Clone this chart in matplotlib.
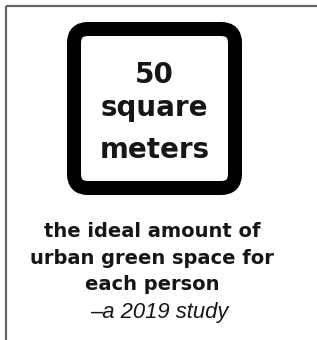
import matplotlib
matplotlib.use("Agg")
import matplotlib.pyplot as plt
from matplotlib.patches import FancyBboxPatch
from matplotlib.lines import Line2D

# ---- content ----
value_label = "50"
unit_lines = ["square", "meters"]
caption_lines = ["the ideal amount of", "urban green space for", "each person"]
source_line = "\u2013a 2019 study"

W, H = 317, 340
fig = plt.figure(figsize=(W / 100, H / 100), dpi=100)
ax = fig.add_axes([0, 0, 1, 1])
ax.set_xlim(0, W)
ax.set_ylim(H, 0)
ax.axis("off")

PX = 72 / 100  # points per pixel

# frame (top and left only)
ax.add_line(Line2D([5.5, W], [5.5, 5.5], color="#666666", lw=2.2 * PX,
                   solid_capstyle="butt"))
ax.add_line(Line2D([5.5, 5.5], [5.5, H], color="#666666", lw=2.2 * PX,
                   solid_capstyle="butt"))

# rounded square badge
box = FancyBboxPatch((74, 29), 161, 159,
                     boxstyle="round,pad=0,rounding_size=14",
                     facecolor="white", edgecolor="black", lw=14 * PX)
ax.add_patch(box)

bold = dict(family="DejaVu Sans", weight="bold", color="#161616",
            ha="center", va="baseline")

cx_box = 154.5
ax.text(cx_box, 83, value_label, fontsize=20, **bold)
for y, line in zip([116, 158], unit_lines):
    ax.text(cx_box, y, line, fontsize=20, **bold)

cx_cap = 152
for y, line in zip([237, 264, 290], caption_lines):
    ax.text(cx_cap, y, line, fontsize=14, **bold)

ax.text(159, 318, source_line, fontsize=15.8, family="Liberation Sans",
        style="italic", color="#161616", ha="center", va="baseline")

fig.savefig("out.png", dpi=100, facecolor="white")
